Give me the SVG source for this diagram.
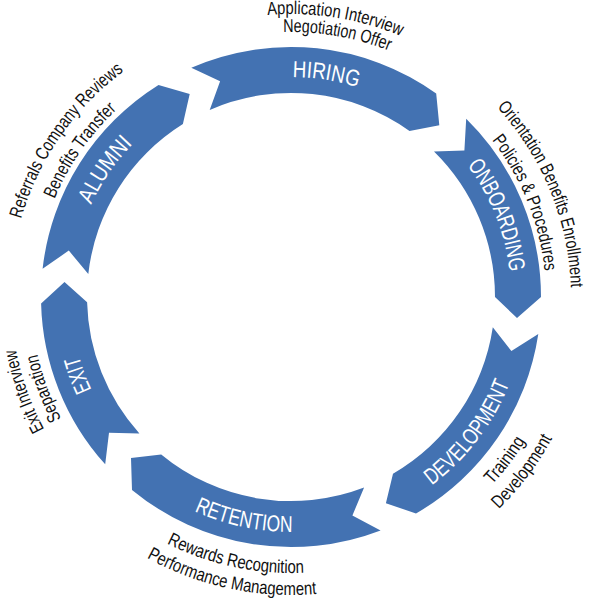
<svg xmlns="http://www.w3.org/2000/svg" xmlns:xlink="http://www.w3.org/1999/xlink" width="590" height="600" viewBox="0 0 590 600">
<style>
.seg{fill:#4372B2;}
.lbl{fill:#ffffff;font-family:"Liberation Sans",Arial,sans-serif;font-size:23px;}
.txt{fill:#111111;font-family:"Liberation Sans",Arial,sans-serif;font-size:18.5px;}
</style>
<defs>
<path id="pHiring" d="M120.0,158.6 A220,220 0 0 1 496.4,218.2"/>
<path id="pOnb" d="M322.8,79.3 A220,220 0 0 1 463.7,433.4"/>
<path id="pDev" d="M260.7,530.1 A235,235 0 0 0 508.0,206.7"/>
<path id="pRet" d="M67.5,369.6 A235,235 0 0 0 465.6,454.2"/>
<path id="pExit" d="M253.6,513.8 A220,220 0 0 1 122.0,156.2"/>
<path id="pAlu" d="M92.6,392.1 A220,220 0 0 1 307.9,77.6"/>
<path id="oH1" d="M71.1,118.9 A283,283 0 0 1 555.2,195.6"/>
<path id="oH2" d="M88.0,126.7 A265,265 0 0 1 540.0,206.4"/>
<path id="oO1" d="M328.5,19.5 A280,280 0 0 1 512.5,468.2"/>
<path id="oO2" d="M326.9,44.6 A255,255 0 0 1 491.7,454.3"/>
<path id="oD1" d="M256.0,569.8 A275,275 0 0 0 544.7,190.9"/>
<path id="oD2" d="M254.8,591.8 A297,297 0 0 0 564.4,181.0"/>
<path id="oR1" d="M28.5,382.3 A276,276 0 0 0 496.1,481.7"/>
<path id="oR2" d="M7.6,389.1 A298,298 0 0 0 512.4,496.4"/>
<path id="oE1" d="M240.0,572.3 A280,280 0 0 1 78.1,115.2"/>
<path id="oE2" d="M247.2,553.3 A260,260 0 0 1 91.0,130.9"/>
<path id="oA1" d="M36.8,416.6 A281,281 0 0 1 314.5,17.0"/>
<path id="oA2" d="M59.4,406.0 A256,256 0 0 1 312.4,41.9"/>
</defs>
<g id="hiring">
<path class="seg" d="M191.3,67.7 A250,250 0 0 1 436.2,93.5 L439.3,125.2 L409.5,130.9 A204,204 0 0 0 209.7,109.9 L220.1,81.3 Z"/>
<text class="lbl" text-anchor="middle"><textPath href="#pHiring" startOffset="50%" textLength="66" lengthAdjust="spacingAndGlyphs">HIRING</textPath></text>
<text class="txt" text-anchor="middle"><textPath href="#oH1" startOffset="50%" textLength="136" lengthAdjust="spacingAndGlyphs">Application Interview</textPath></text>
<text class="txt" text-anchor="middle"><textPath href="#oH2" startOffset="50%" textLength="108" lengthAdjust="spacingAndGlyphs">Negotiation Offer</textPath></text>
</g>
<g id="onboarding">
<path class="seg" d="M466.2,118.7 A250,250 0 0 1 541,297 L517.0,318.0 L495,297 A204,204 0 0 0 434.0,151.5 L464.4,150.5 Z"/>
<text class="lbl" text-anchor="middle"><textPath href="#pOnb" startOffset="50%" textLength="116" lengthAdjust="spacingAndGlyphs">ONBOARDING</textPath></text>
<text class="txt" text-anchor="middle"><textPath href="#oO1" startOffset="50%" textLength="199" lengthAdjust="spacingAndGlyphs">Orientation Benefits Enrollment</textPath></text>
<text class="txt" text-anchor="middle"><textPath href="#oO2" startOffset="50%" textLength="143" lengthAdjust="spacingAndGlyphs">Policies &amp; Procedures</textPath></text>
</g>
<g id="development">
<path class="seg" d="M538.3,334.0 A250,250 0 0 1 416,513.5 L385.9,503.2 L393,473.7 A204,204 0 0 0 492.8,327.2 L511.4,351.1 Z"/>
<text class="lbl" text-anchor="middle"><textPath href="#pDev" startOffset="50%" textLength="130" lengthAdjust="spacingAndGlyphs">DEVELOPMENT</textPath></text>
<text class="txt" text-anchor="middle"><textPath href="#oD1" startOffset="50%" textLength="55" lengthAdjust="spacingAndGlyphs">Training</textPath></text>
<text class="txt" text-anchor="middle"><textPath href="#oD2" startOffset="50%" textLength="89" lengthAdjust="spacingAndGlyphs">Development</textPath></text>
</g>
<g id="retention">
<path class="seg" d="M380.6,530.4 A250,250 0 0 1 132.0,489.9 L131.0,458.0 L161.2,454.4 A204,204 0 0 0 364.1,487.5 L352.4,515.5 Z"/>
<text class="lbl" text-anchor="middle"><textPath href="#pRet" startOffset="50%" textLength="101" lengthAdjust="spacingAndGlyphs">RETENTION</textPath></text>
<text class="txt" text-anchor="middle"><textPath href="#oR1" startOffset="50%" textLength="142" lengthAdjust="spacingAndGlyphs">Rewards Recognition</textPath></text>
<text class="txt" text-anchor="middle"><textPath href="#oR2" startOffset="50%" textLength="176" lengthAdjust="spacingAndGlyphs">Performance Management</textPath></text>
</g>
<g id="exit">
<path class="seg" d="M105.2,464.3 A250,250 0 0 1 41.1,303.5 L64.5,282.0 L87.1,302.3 A204,204 0 0 0 139.4,433.5 L109.0,432.7 Z"/>
<text class="lbl" text-anchor="middle"><textPath href="#pExit" startOffset="50%" textLength="36" lengthAdjust="spacingAndGlyphs">EXIT</textPath></text>
<text class="txt" text-anchor="middle"><textPath href="#oE1" startOffset="50%" textLength="85" lengthAdjust="spacingAndGlyphs">Exit Interview</textPath></text>
<text class="txt" text-anchor="middle"><textPath href="#oE2" startOffset="50%" textLength="69" lengthAdjust="spacingAndGlyphs">Separation</textPath></text>
</g>
<g id="alumni">
<path class="seg" d="M42.6,268.7 A250,250 0 0 1 158.5,85.0 L189.7,93.9 L182.9,124.0 A204,204 0 0 0 88.3,273.9 L68.8,250.6 Z"/>
<text class="lbl" text-anchor="middle"><textPath href="#pAlu" startOffset="50%" textLength="74" lengthAdjust="spacingAndGlyphs">ALUMNI</textPath></text>
<text class="txt" text-anchor="middle"><textPath href="#oA1" startOffset="50%" textLength="183" lengthAdjust="spacingAndGlyphs">Referrals Company Reviews</textPath></text>
<text class="txt" text-anchor="middle"><textPath href="#oA2" startOffset="50%" textLength="110" lengthAdjust="spacingAndGlyphs">Benefits Transfer</textPath></text>
</g>
</svg>
